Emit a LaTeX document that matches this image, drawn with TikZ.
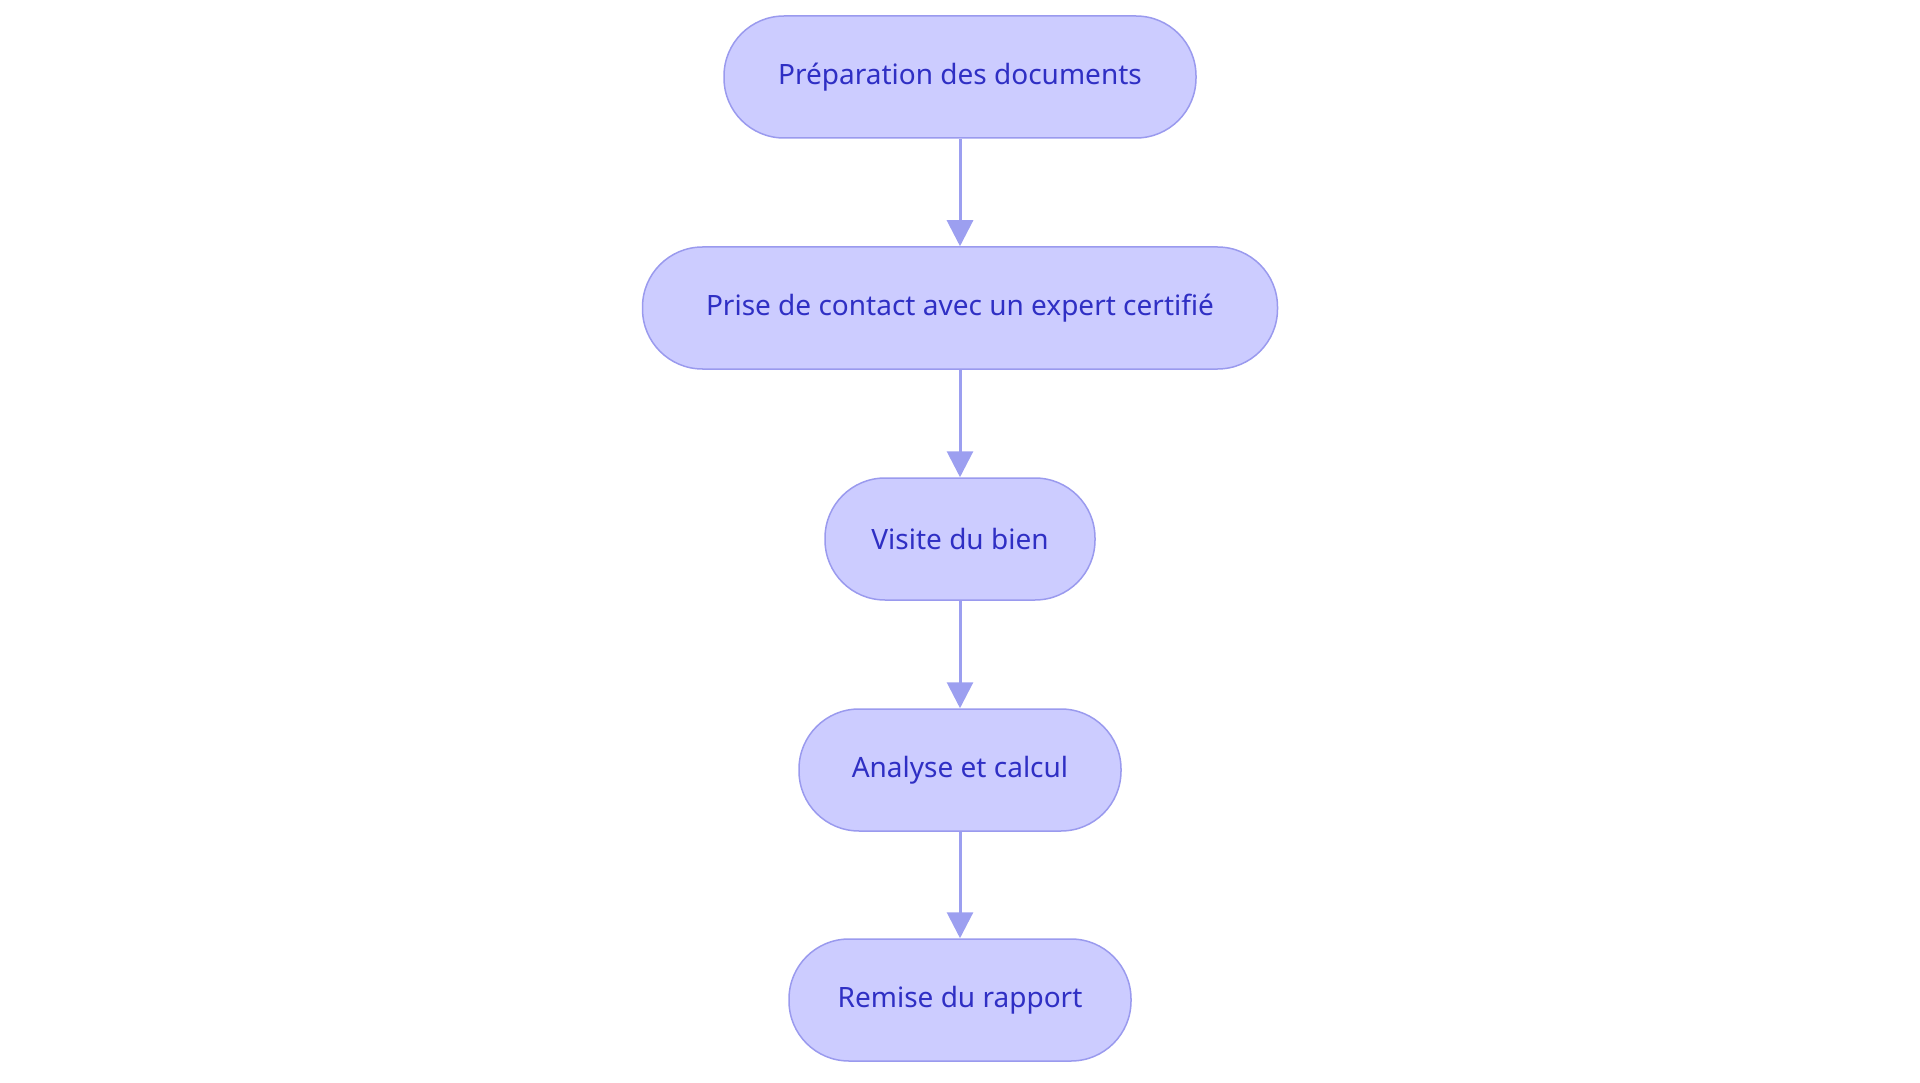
\documentclass[tikz,border=0pt]{standalone}
\usepackage{fontspec}
\setmainfont{Noto Sans}
\usetikzlibrary{arrows.meta}
\definecolor{fillc}{HTML}{CCCCFF}
\definecolor{edgec}{HTML}{9A9AEE}
\definecolor{txtc}{HTML}{2F2FC4}
\definecolor{arrc}{HTML}{9C9FF0}
\begin{document}
\begin{tikzpicture}[x=1pt,y=-1pt,
  box/.style={draw=edgec,line width=1.5pt,fill=fillc,rounded corners=60pt,minimum height=122pt,text=txtc,font=\fontsize{28}{32}\selectfont,inner sep=0pt},
  arr/.style={draw=arrc,line width=3pt,-{Triangle[length=26pt,width=26pt]}}]
\useasboundingbox (0,0) rectangle (1920,1083);
\node[box,minimum width=472pt] (a) at (960,77) {Préparation des documents};
\node[box,minimum width=635pt] (b) at (960,308) {Prise de contact avec un expert certifié};
\node[box,minimum width=270pt] (c) at (960,539) {Visite du bien};
\node[box,minimum width=322pt] (d) at (960,770) {Analyse et calcul};
\node[box,minimum width=342pt] (e) at (960,1000) {Remise du rapport};
\draw[arr] (a) -- (b);
\draw[arr] (b) -- (c);
\draw[arr] (c) -- (d);
\draw[arr] (d) -- (e);
\end{tikzpicture}
\end{document}
